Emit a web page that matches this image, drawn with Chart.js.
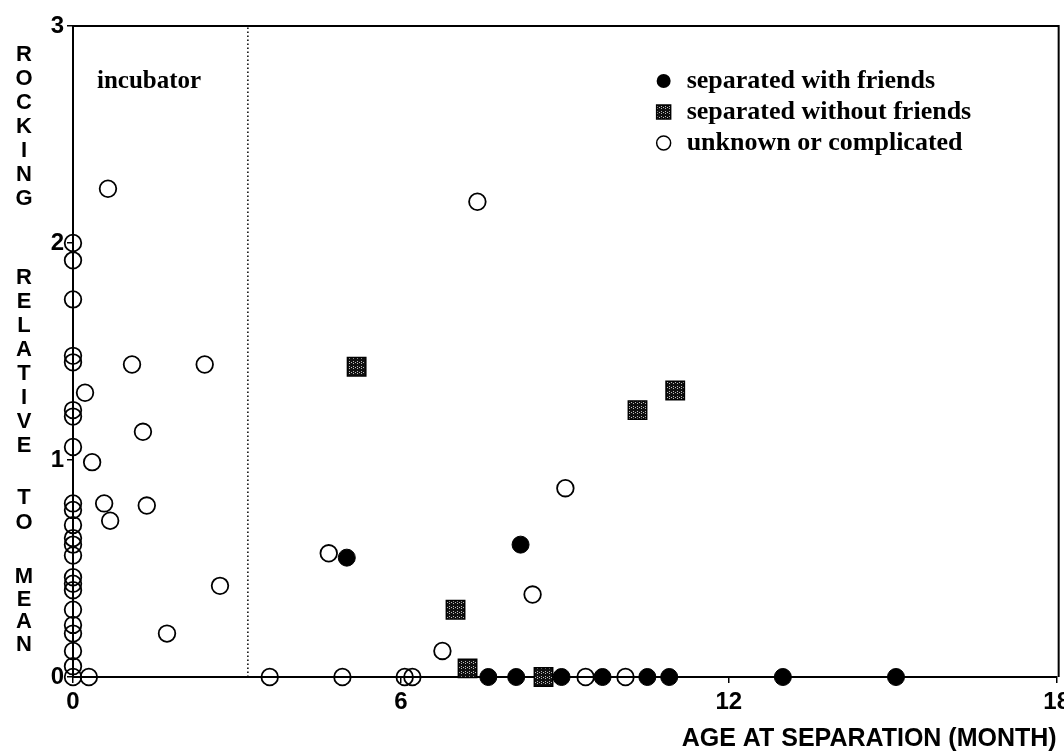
<!DOCTYPE html>
<html>
<head>
<meta charset="utf-8">
<script src="https://cdn.jsdelivr.net/npm/chart.js@4.4.1/dist/chart.umd.min.js"></script>
<style>
  html, body { margin: 0; padding: 0; background: #fff; overflow: hidden; }
  #wrap { position: absolute; left: 0; top: 0; width: 1075px; height: 751px; }
</style>
</head>
<body>
<div id="wrap"><canvas id="chart"></canvas></div>
<script>
// Age at separation (months) vs rocking relative to mean
const withFriendsX = [5.01, 8.19, 7.60, 8.11, 8.94, 9.69, 10.51, 10.91, 12.99, 15.06];
const withFriendsY = [0.55, 0.61, 0, 0, 0, 0, 0, 0, 0, 0];

const withoutFriendsX = [5.19, 11.02, 10.33, 7.00, 7.22, 8.61];
const withoutFriendsY = [1.43, 1.32, 1.23, 0.31, 0.04, 0];

const unknownX = [
  0, 0, 0, 0, 0, 0, 0, 0, 0, 0, 0, 0, 0, 0, 0, 0, 0, 0, 0, 0, 0, 0, 0,
  0.64, 1.08, 2.41, 0.22, 1.28, 0.35, 0.57, 1.35, 0.68, 2.69, 1.72, 0.29,
  3.60, 4.93, 6.07, 6.21, 9.38, 10.11, 4.68, 8.41, 6.76, 7.40, 9.01
];
const unknownY = [
  2.00, 1.92, 1.74, 1.48, 1.45, 1.23, 1.20, 1.06, 0.80, 0.77, 0.70, 0.64, 0.61,
  0.56, 0.46, 0.43, 0.40, 0.31, 0.24, 0.20, 0.12, 0.05, 0,
  2.25, 1.44, 1.44, 1.31, 1.13, 0.99, 0.80, 0.79, 0.72, 0.42, 0.20, 0,
  0, 0, 0, 0, 0, 0, 0.57, 0.38, 0.12, 2.19, 0.87
];

const incubatorLimit = 3.2;
const xTicks = [0, 6, 12, 18];
const yTicks = [0, 1, 2, 3];
const seriesLabels = ['separated with friends', 'separated without friends', 'unknown or complicated'];
const yTitleWords = [['ROCKING', 55, 24], ['RELATIVE', 278, 24], ['TO', 498, 25], ['MEAN', 577, 22.7]];

const pts = (xs, ys) => xs.map((x, i) => ({ x: x, y: ys[i] }));

// hatched dark fill for the squares
const pat = document.createElement('canvas');
pat.width = 4; pat.height = 5;
const pc = pat.getContext('2d');
pc.fillStyle = '#111';
pc.fillRect(0, 0, 4, 5);
pc.fillStyle = '#bbb';
pc.fillRect(1, 1, 1, 1); pc.fillRect(1, 3, 1, 1);
pc.fillRect(3, 2, 1, 1);
const hatch = pc.createPattern(pat, 'repeat');

const SANS = '"Liberation Sans", Arial, sans-serif';
const SERIF = '"Liberation Serif", "Times New Roman", serif';

const decor = {
  id: 'decor',
  afterDraw(chart) {
    const { ctx, chartArea: ca } = chart;
    ctx.save();
    // frame top + right
    ctx.strokeStyle = '#000';
    ctx.lineWidth = 2;
    ctx.beginPath();
    ctx.moveTo(ca.left, ca.top);
    ctx.lineTo(ca.right + 2, ca.top);
    ctx.lineTo(ca.right + 2, ca.bottom);
    ctx.stroke();

    // stacked y title
    ctx.fillStyle = '#000';
    ctx.font = 'bold 22px ' + SANS;
    ctx.textAlign = 'center';
    ctx.textBaseline = 'middle';
    yTitleWords.forEach(([word, top, step]) => {
      [...word].forEach((ch, i) => ctx.fillText(ch, 24, top + i * step));
    });

    // incubator label
    ctx.font = 'bold 25px ' + SERIF;
    ctx.textAlign = 'left';
    ctx.fillText('incubator', ca.left + 24, ca.top + 56);

    // legend
    const lx = ca.right - 393, ly = ca.top + 55, gap = 31;
    ctx.font = 'bold 26px ' + SERIF;
    ctx.lineWidth = 1.5;
    ctx.beginPath(); ctx.arc(lx, ly, 7, 0, Math.PI * 2); ctx.fillStyle = '#000'; ctx.fill();
    ctx.fillStyle = hatch; ctx.fillRect(lx - 7, ly + gap - 7, 14, 14);
    ctx.strokeRect(lx - 7, ly + gap - 7, 14, 14);
    ctx.beginPath(); ctx.arc(lx, ly + gap * 2, 7, 0, Math.PI * 2); ctx.stroke();
    ctx.fillStyle = '#000';
    seriesLabels.forEach((t, i) => ctx.fillText(t, lx + 23, ly + i * gap));
    ctx.restore();
  }
};

new Chart(document.getElementById('chart'), {
  type: 'scatter',
  data: {
    datasets: [
      {
        label: seriesLabels[0],
        data: pts(withFriendsX, withFriendsY),
        pointStyle: 'circle', pointRadius: 8.5,
        backgroundColor: '#000', borderColor: '#000', borderWidth: 1,
        clip: false
      },
      {
        label: seriesLabels[1],
        data: pts(withoutFriendsX, withoutFriendsY),
        pointStyle: 'rect', pointRadius: 13,
        backgroundColor: hatch, borderColor: '#000', borderWidth: 1.5,
        clip: false
      },
      {
        label: seriesLabels[2],
        data: pts(unknownX, unknownY),
        pointStyle: 'circle', pointRadius: 8.3,
        backgroundColor: 'rgba(0,0,0,0)', borderColor: '#000', borderWidth: 1.8,
        clip: false
      },
      {
        type: 'line',
        label: 'incubator',
        data: [{ x: incubatorLimit, y: 0 }, { x: incubatorLimit, y: 3 }],
        borderColor: '#000', borderWidth: 1.5, borderDash: [1.5, 2.5],
        pointRadius: 0, fill: false
      }
    ]
  },
  options: {
    responsive: true,
    maintainAspectRatio: false,
    animation: false,
    events: [],
    layout: { padding: { top: 26, right: 14, left: 0, bottom: 0 } },
    plugins: { legend: { display: false }, tooltip: { enabled: false } },
    scales: {
      x: {
        type: 'linear', min: 0, max: 18,
        afterBuildTicks: s => { s.ticks = xTicks.map(v => ({ value: v })); },
        afterFit: s => { s.height = 74; },
        ticks: { color: '#000', font: { family: SANS, size: 24, weight: 'bold' }, padding: 5, maxRotation: 0, autoSkip: false },
        grid: { drawOnChartArea: false, tickLength: 6, color: '#000', lineWidth: 1.5 },
        border: { color: '#000', width: 2 },
        title: {
          display: true, text: 'AGE AT SEPARATION (MONTH)', align: 'end', color: '#000',
          font: { family: SANS, size: 25, weight: 'bold' }, padding: { top: 0, bottom: -3 }
        }
      },
      y: {
        type: 'linear', min: 0, max: 3,
        afterBuildTicks: s => { s.ticks = yTicks.map(v => ({ value: v })); },
        afterFit: s => { s.width = 73; },
        ticks: { color: '#000', font: { family: SANS, size: 24, weight: 'bold' }, padding: 3 },
        grid: { drawOnChartArea: false, tickLength: 6, color: '#000', lineWidth: 1.5 },
        border: { color: '#000', width: 2 }
      }
    }
  },
  plugins: [decor]
});
</script>
</body>
</html>
